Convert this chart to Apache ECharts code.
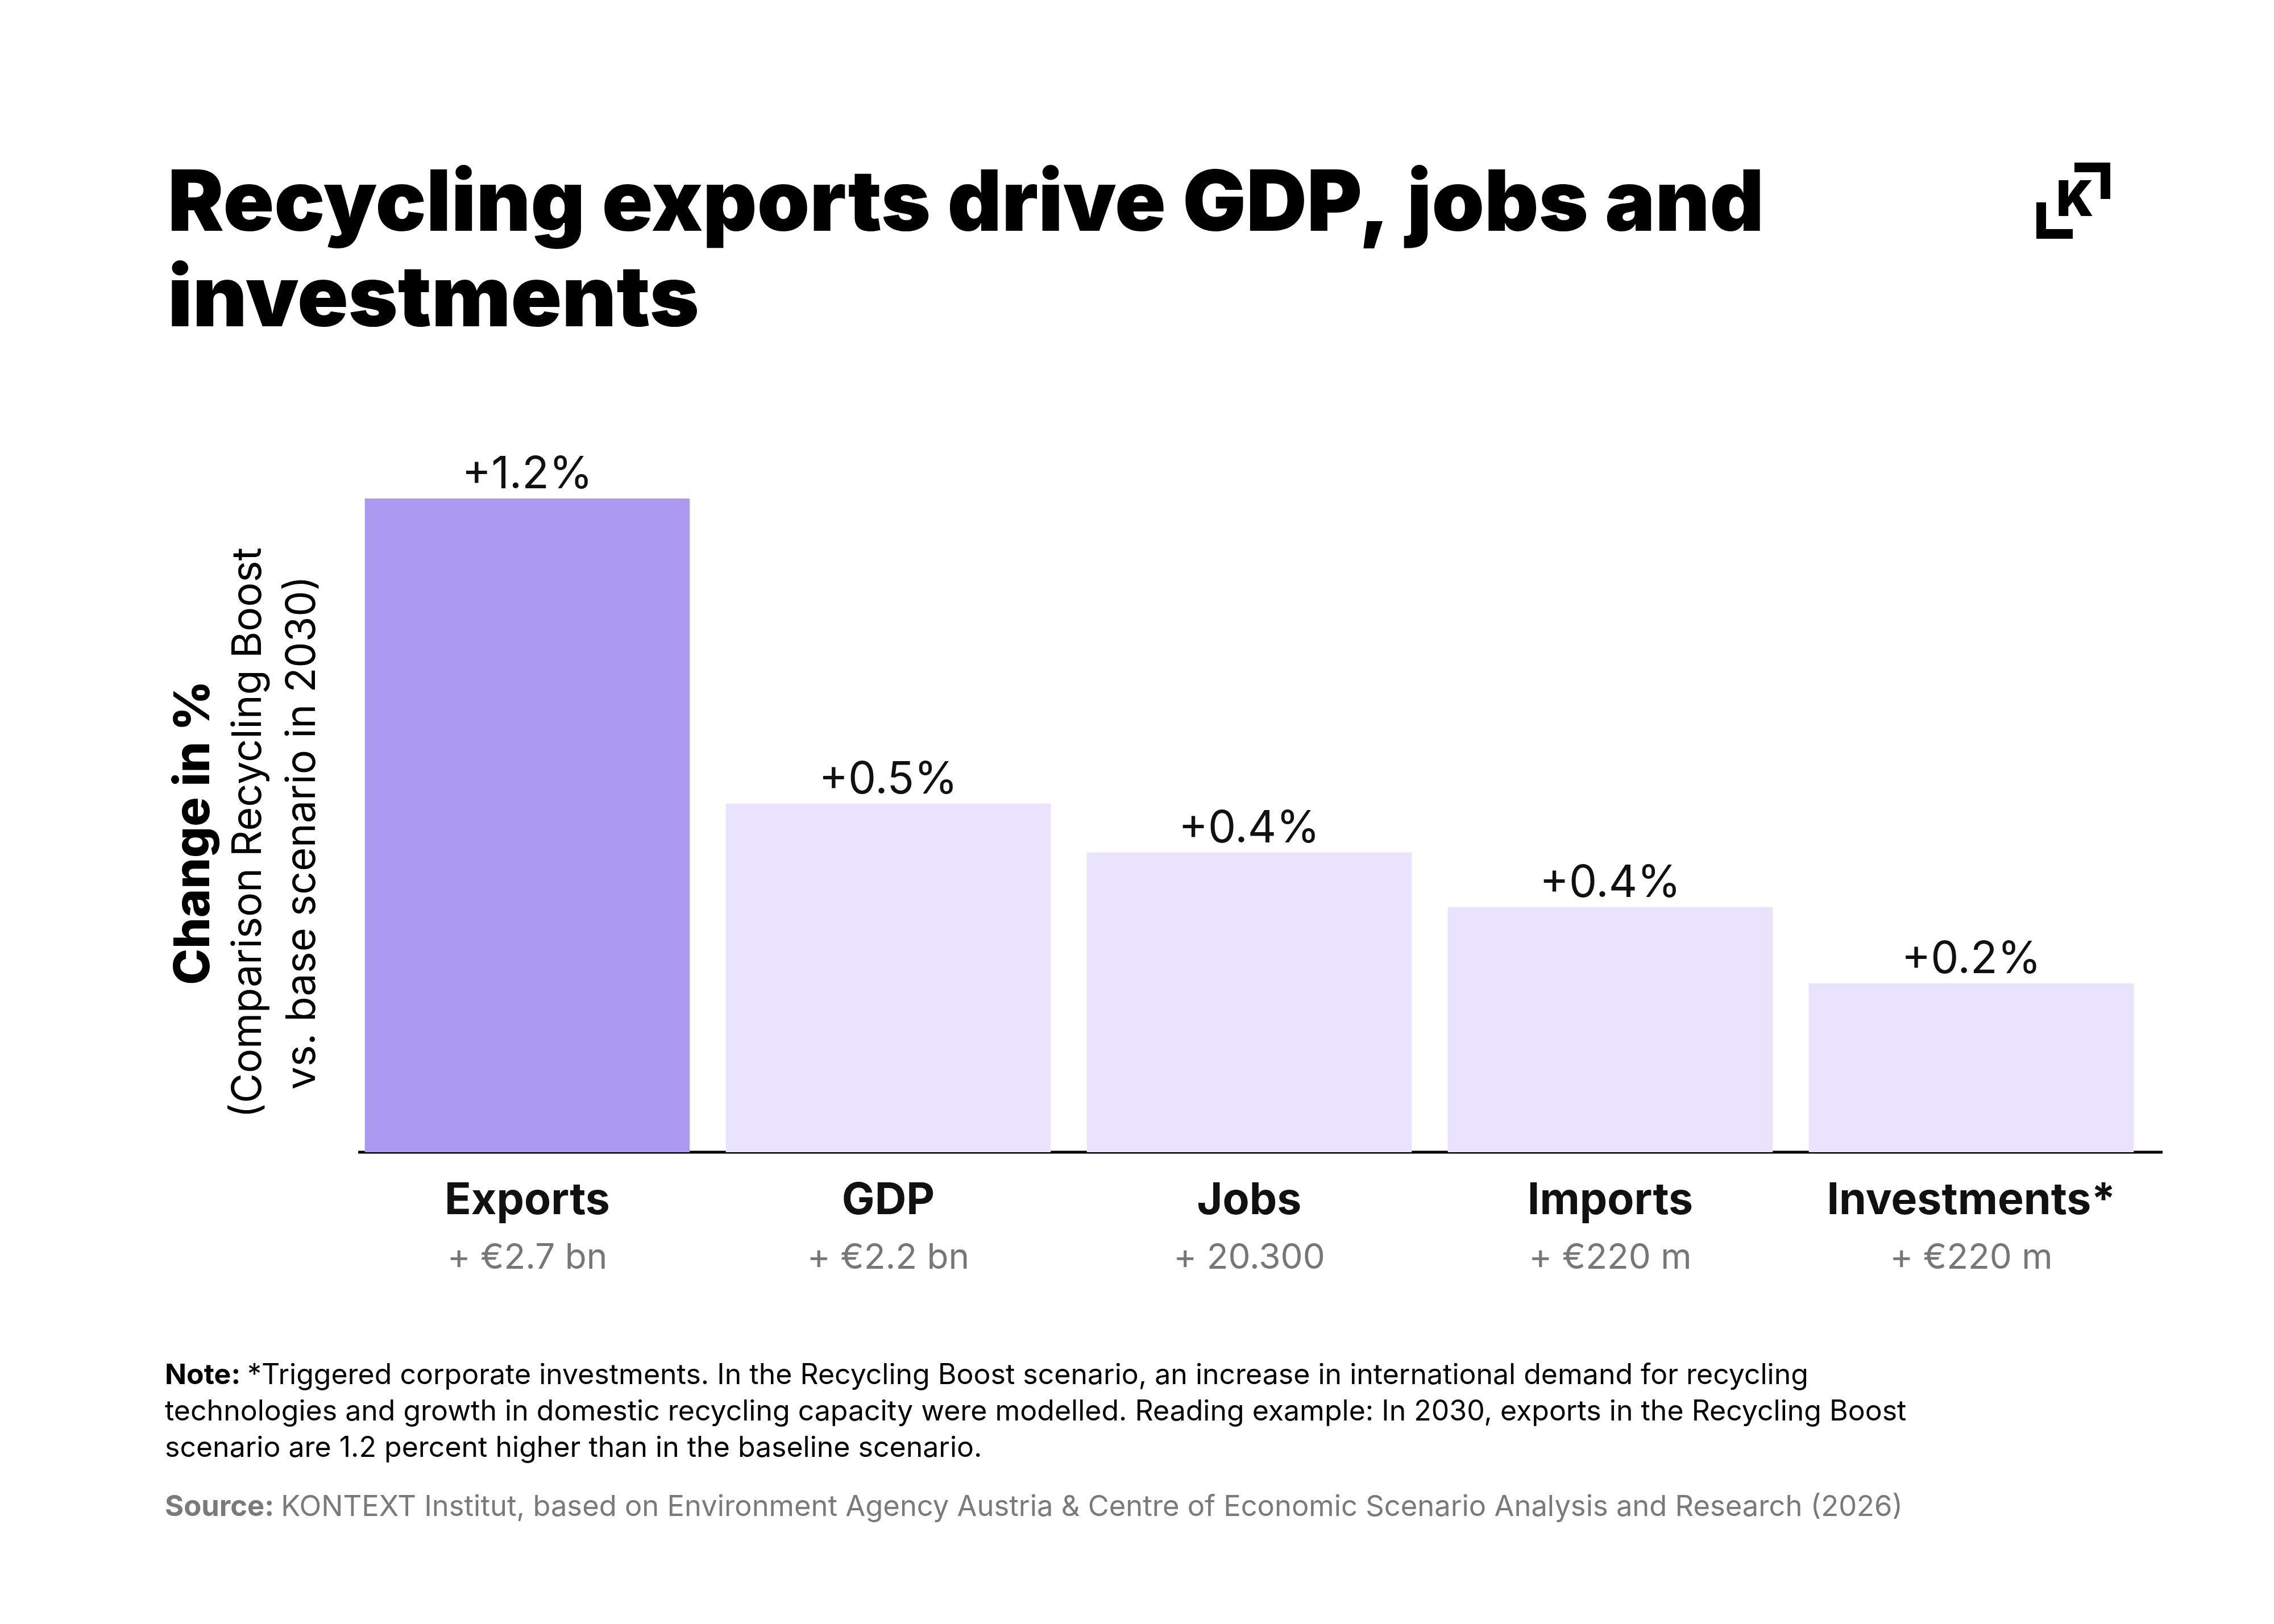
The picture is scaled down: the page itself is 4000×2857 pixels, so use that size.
<!DOCTYPE html>
<html>
<head>
<meta charset="utf-8">
<script src="https://cdn.jsdelivr.net/npm/echarts@6/dist/echarts.min.js"></script>
<style>
  html, body { margin: 0; padding: 0; background: #fff; }
  #main { width: 4000px; height: 2857px; }
</style>
</head>
<body>
<div id="main"></div>
<script>
// DATA
const categories = ['Exports', 'GDP', 'Jobs', 'Imports', 'Investments*'];
const changeValues = [1.2, 0.64, 0.55, 0.45, 0.31];
const valueLabels = ['+1.2%', '+0.5%', '+0.4%', '+0.4%', '+0.2%'];
const absoluteLabels = ['+ €2.7 bn', '+ €2.2 bn', '+ 20.300', '+ €220 m', '+ €220 m'];
const highlighted = [true, false, false, false, false];

const font = 'Inter';

function getChart() {
    let chartDom = document.getElementById('main');
    let myChart = echarts.init(chartDom, null, { renderer: 'canvas' });

    let barData = changeValues.map((v, i) => ({
        value: v,
        itemStyle: { color: highlighted[i] ? '#ac9af0' : '#e9e3fd' },
        label: { formatter: valueLabels[i] }
    }));

    let axisY = 2027;

    let option = {
        backgroundColor: '#ffffff',
        animation: false,
        title: {
            text: 'Recycling exports drive GDP, jobs and\ninvestments',
            left: 290,
            top: 272,
            textStyle: {
                fontFamily: font,
                fontWeight: 900,
                fontSize: 148,
                lineHeight: 168,
                color: '#000'
            }
        },
        grid: {
            left: 610,
            width: 3175,
            top: 877,
            bottom: 2857 - axisY,
            containLabel: false
        },
        xAxis: {
            type: 'category',
            data: categories,
            axisTick: { show: false },
            axisLine: { show: false },
            axisLabel: {
                margin: 36,
                interval: 0,
                formatter: (name, i) => `{n|${name}}\n{s|${absoluteLabels[i]}}`,
                rich: {
                    n: { fontFamily: font, fontWeight: 700, fontSize: 77, lineHeight: 100, color: '#111' },
                    s: { fontFamily: font, fontWeight: 400, fontSize: 62, lineHeight: 100, color: '#777' }
                }
            }
        },
        yAxis: {
            type: 'value',
            min: 0,
            max: 1.2,
            show: false,
            splitLine: { show: false }
        },
        series: [{
            type: 'bar',
            data: barData,
            barCategoryGap: '10%',
            label: {
                show: true,
                position: 'top',
                distance: 2,
                fontFamily: font,
                fontSize: 78,
                color: '#111'
            }
        }],
        graphic: [
            // baseline
            {
                type: 'line',
                shape: { x1: 630, y1: axisY, x2: 3804, y2: axisY },
                style: { stroke: '#000', lineWidth: 5 }
            },
            // y axis title
            {
                type: 'text',
                x: 437,
                y: 1465,
                rotation: Math.PI / 2,
                style: {
                    text: '{b|Change in %}\n{r|(Comparison Recycling Boost}\n{r|vs. base scenario in 2030)}',
                    align: 'center',
                    verticalAlign: 'middle',
                    rich: {
                        b: { fontFamily: font, fontWeight: 800, fontSize: 86, lineHeight: 95, fill: '#000', align: 'center' },
                        r: { fontFamily: font, fontWeight: 400, fontSize: 72, lineHeight: 95, fill: '#000', align: 'center' }
                    }
                }
            },
            // note
            {
                type: 'text',
                left: 290,
                top: 2395,
                style: {
                    text: '{b|Note: }{r|*Triggered corporate investments. In the Recycling Boost scenario, an increase in international demand for recycling}\n' +
                        '{r|technologies and growth in domestic recycling capacity were modelled. Reading example: In 2030, exports in the Recycling Boost}\n' +
                        '{r|scenario are 1.2 percent higher than in the baseline scenario.}',
                    rich: {
                        b: { fontFamily: font, fontWeight: 700, fontSize: 50, lineHeight: 64, fill: '#000' },
                        r: { fontFamily: font, fontWeight: 400, fontSize: 50, lineHeight: 64, fill: '#000' }
                    }
                }
            },
            // source
            {
                type: 'text',
                left: 290,
                top: 2626,
                style: {
                    text: '{b|Source: }{r|KONTEXT Institut, based on Environment Agency Austria & Centre of Economic Scenario Analysis and Research (2026)}',
                    rich: {
                        b: { fontFamily: font, fontWeight: 700, fontSize: 50.7, lineHeight: 64, fill: '#7a7a7a' },
                        r: { fontFamily: font, fontWeight: 400, fontSize: 50.7, lineHeight: 64, fill: '#7a7a7a' }
                    }
                }
            },
            // logo
            { type: 'rect', shape: { x: 3649, y: 286, width: 63, height: 17 }, style: { fill: '#000' } },
            { type: 'rect', shape: { x: 3695, y: 286, width: 17, height: 64 }, style: { fill: '#000' } },
            { type: 'rect', shape: { x: 3582, y: 356, width: 17, height: 64 }, style: { fill: '#000' } },
            { type: 'rect', shape: { x: 3582, y: 403, width: 64, height: 17 }, style: { fill: '#000' } },
            {
                type: 'text',
                x: 3650,
                y: 354,
                style: {
                    text: 'K',
                    align: 'center',
                    verticalAlign: 'middle',
                    fontFamily: font,
                    fontWeight: 900,
                    fontSize: 86,
                    fill: '#000'
                }
            }
        ]
    };
    option && myChart.setOption(option);
}

window.addEventListener('load', getChart);
</script>
</body>
</html>
